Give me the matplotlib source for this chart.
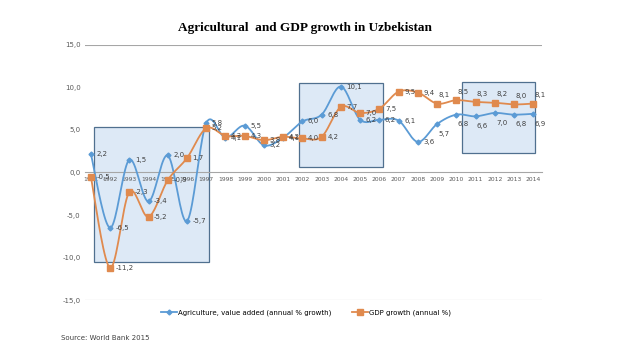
import numpy as np
import matplotlib.pyplot as plt
from matplotlib.lines import Line2D
from matplotlib.patches import Rectangle

years = list(range(1991, 2015))
agri = [2.2, -6.5, 1.5, -3.4, 2.0, -5.7, 5.8, 4.1, 5.5, 3.2, 4.1, 6.0,
        6.8, 10.1, 6.2, 6.2, 6.1, 3.6, 5.7, 6.8, 6.6, 7.0, 6.8, 6.9]
gdp = [-0.5, -11.2, -2.3, -5.2, -0.9, 1.7, 5.2, 4.3, 4.3, 3.8, 4.2, 4.0,
       4.2, 7.7, 7.0, 7.5, 9.5, 9.4, 8.1, 8.5, 8.3, 8.2, 8.0, 8.1]
yticks = [-15, -10, -5, 0, 5, 10, 15]

# highlighted periods (x0, x1, y0, y1)
boxes = [(1991.15, 1997.15, -10.5, 5.3),
         (2001.8, 2006.2, 0.6, 10.5),
         (2010.27, 2014.1, 2.35, 10.6)]

blue = '#5B9BD5'
orange = '#E08A4E'


def smooth(x, y, n=20):
    """excel-like smoothed line (catmull-rom bezier)"""
    x = np.asarray(x, float)
    y = np.asarray(y, float)
    px = np.concatenate([[x[0]], x, [x[-1]]])
    py = np.concatenate([[y[0]], y, [y[-1]]])
    xs, ys = [], []
    t = np.linspace(0, 1, n)
    for i in range(1, len(x)):
        p0 = np.array([px[i], py[i]])
        p3 = np.array([px[i + 1], py[i + 1]])
        c1 = p0 + (p3 - np.array([px[i - 1], py[i - 1]])) / 6
        c2 = p3 - (np.array([px[i + 2], py[i + 2]]) - p0) / 6
        b = ((1 - t) ** 3)[:, None] * p0 + (3 * (1 - t) ** 2 * t)[:, None] * c1 \
            + (3 * (1 - t) * t ** 2)[:, None] * c2 + (t ** 3)[:, None] * p3
        xs.extend(b[:, 0])
        ys.extend(b[:, 1])
    return xs, ys


def fmt(v):
    return f"{v:.1f}".replace('.', ',')


fig = plt.figure(figsize=(6.38, 3.59), dpi=100)
ax = fig.add_axes([0.133, 0.164, 0.717, 0.711])

# axis line through zero (set before ticks, it resets them)
for s in ['top', 'right', 'left']:
    ax.spines[s].set_visible(False)
ax.spines['bottom'].set_position(('data', 0))
ax.spines['bottom'].set_color('#A6A6A6')
ax.spines['bottom'].set_linewidth(0.8)

for x0, x1, y0, y1 in boxes:
    ax.add_patch(Rectangle((x0, y0), x1 - x0, y1 - y0, facecolor='#DDE9F6',
                           edgecolor='#50708F', linewidth=0.9, zorder=1))

for yv in [-15, 15]:
    ax.axhline(yv, color='#A6A6A6', linewidth=0.8, zorder=0)

sx, sy = smooth(years, agri)
ax.plot(sx, sy, color=blue, linewidth=1.3, zorder=3)
ax.plot(years, agri, linestyle='none', marker='D', markersize=2.5, color=blue, zorder=3)
sx, sy = smooth(years, gdp)
ax.plot(sx, sy, color=orange, linewidth=1.3, zorder=3)
ax.plot(years, gdp, linestyle='none', marker='s', markersize=4, color=orange, zorder=3)

# labels: right of the point, later years below (blue) / above (orange)
for x, v in zip(years, agri):
    off = (4, 0) if x < 2009 else (1, -7)
    ax.annotate(fmt(v), (x, v), xytext=off, textcoords='offset points',
                fontsize=5, color='#404040', va='center', ha='left', zorder=4)
for x, v in zip(years, gdp):
    off = (4, 0) if x < 2009 else (1, 6)
    ax.annotate(fmt(v), (x, v), xytext=off, textcoords='offset points',
                fontsize=5, color='#404040', va='center', ha='left', zorder=4)

ax.set_xlim(1990.69, 2014.47)
ax.set_ylim(-15, 15)
ax.set_yticks(yticks)
ax.set_yticklabels([fmt(v) for v in yticks], fontsize=5, color='#595959')
ax.set_xticks(years)
ax.set_xticklabels([str(y) for y in years], fontsize=4.3, color='#595959')
ax.tick_params(length=0, pad=3)
ax.set_facecolor('none')

fig.text(0.478, 0.915, 'Agricultural  and GDP growth in Uzbekistan',
         fontsize=9.5, fontweight='bold', family='Liberation Serif', ha='center')

handles = [Line2D([], [], color=blue, marker='D', markersize=2.5, linewidth=1.3),
           Line2D([], [], color=orange, marker='s', markersize=4, linewidth=1.3)]
fig.legend(handles, ['Agriculture, value added (annual % growth)', 'GDP growth (annual %)'],
           loc='center', bbox_to_anchor=(0.48, 0.128), ncol=2, frameon=False,
           fontsize=5, handlelength=2.2, columnspacing=3, handletextpad=0.2)

fig.text(0.096, 0.053, 'Source: World Bank 2015', fontsize=5, color='#404040')

fig.savefig('out.png', dpi=100)
